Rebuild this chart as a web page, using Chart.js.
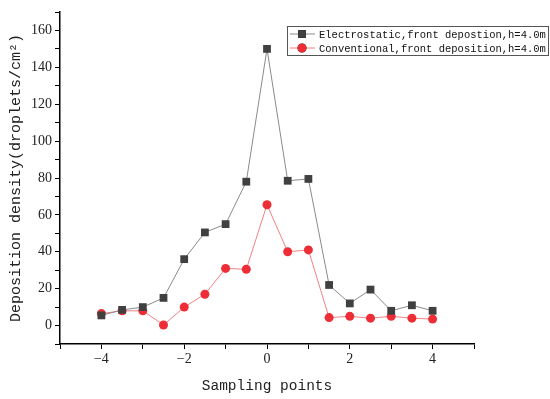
<!DOCTYPE html>
<html>
<head>
<meta charset="utf-8">
<script src="https://cdn.jsdelivr.net/npm/chart.js@4"></script>
<style>
  body { margin: 0; background: #fff; }
  canvas { display: block; }
</style>
</head>
<body>
<canvas id="chart" width="550" height="399"></canvas>
<script>
// Dados
const pontos = [-4, -3.5, -3, -2.5, -2, -1.5, -1, -0.5, 0, 0.5, 1, 1.5, 2, 2.5, 3, 3.5, 4];
const eletrostatico = [5.5, 8.5, 10, 15, 36, 50.5, 55, 78, 150, 78.5, 79.5, 22, 12, 19.5, 8, 11, 8];
const convencional = [6.5, 8, 8, 0.3, 10, 17, 31, 30.5, 65.5, 40, 41, 4.3, 5, 4, 5, 4, 3.5];
const nomes = ["Electrostatic,front depostion,h=4.0m", "Conventional,front deposition,h=4.0m"];

const serie = (ys) => pontos.map((x, i) => ({ x, y: ys[i] }));

// Legenda dentro da área do gráfico
const legendaBox = {
  id: "legendaBox",
  afterDraw(c) {
    const ctx = c.ctx;
    const x0 = 287, y0 = 26, w = 261, h = 29;
    ctx.save();
    ctx.strokeStyle = "#555";
    ctx.lineWidth = 1;
    ctx.strokeRect(x0 + 0.5, y0 + 0.5, w, h);
    ctx.font = "10.5px 'Liberation Mono'";
    ctx.textBaseline = "middle";
    c.data.datasets.forEach((ds, i) => {
      const y = y0 + 8 + i * 14;
      ctx.strokeStyle = ds.borderColor;
      ctx.lineWidth = 1;
      ctx.beginPath();
      ctx.moveTo(x0 + 3, y);
      ctx.lineTo(x0 + 28, y);
      ctx.stroke();
      Chart.helpers.drawPoint(ctx, {
        pointStyle: ds.pointStyle,
        radius: ds.pointRadius,
        borderWidth: 0
      }, x0 + 15, y);
      ctx.fillStyle = ds.pointBackgroundColor;
      ctx.fill();
      ctx.fillStyle = "#111";
      ctx.fillText(ds.label, x0 + 32, y + 1);
    });
    ctx.restore();
  }
};

new Chart(document.getElementById("chart"), {
  type: "line",
  data: {
    datasets: [
      {
        label: nomes[0],
        data: serie(eletrostatico),
        borderColor: "#8a8a8a",
        borderWidth: 1,
        pointStyle: "rect",
        pointRadius: 5.5,
        pointBackgroundColor: "#404040",
        pointBorderWidth: 0
      },
      {
        label: nomes[1],
        data: serie(convencional),
        borderColor: "#f28080",
        borderWidth: 1,
        pointStyle: "circle",
        pointRadius: 4.5,
        pointBackgroundColor: "#ee2e36",
        pointBorderWidth: 0
      }
    ]
  },
  options: {
    responsive: false,
    animation: false,
    layout: { padding: { top: 12, right: 76, left: 0, bottom: 0 } },
    plugins: { legend: { display: false }, tooltip: { enabled: false } },
    scales: {
      x: {
        type: "linear",
        min: -5,
        max: 5,
        afterFit(s) { s.height = 55; },
        ticks: {
          stepSize: 1,
          autoSkip: false,
          maxRotation: 0,
          color: "#222",
          font: { family: "'Liberation Serif'", size: 14 },
          padding: 2,
          callback: v => (v % 2 === 0 && Math.abs(v) < 5 ? (v < 0 ? "\u2212" + (-v) : String(v)) : "")
        },
        grid: { drawOnChartArea: false, color: "#000", tickLength: 5, tickWidth: 1 },
        border: { color: "#000", width: 1.5 },
        title: {
          display: true,
          text: "Sampling points",
          color: "#222",
          font: { family: "'Liberation Mono'", size: 14.5 },
          padding: { top: 2 }
        }
      },
      y: {
        min: -10,
        max: 170,
        afterFit(s) { s.width = 60; },
        ticks: {
          stepSize: 10,
          autoSkip: false,
          color: "#222",
          font: { family: "'Liberation Serif'", size: 14 },
          padding: 3,
          callback: v => (v >= 0 && v <= 160 && v % 20 === 0 ? String(v) : "")
        },
        grid: { drawOnChartArea: false, color: "#000", tickLength: 5, tickWidth: 1 },
        border: { color: "#000", width: 1.5 },
        title: {
          display: true,
          text: "Deposition density(droplets/cm\u00b2)",
          color: "#222",
          font: { family: "'Liberation Mono'", size: 15 },
          padding: { top: 7, bottom: 0 }
        }
      }
    }
  },
  plugins: [legendaBox]
});
</script>
</body>
</html>
